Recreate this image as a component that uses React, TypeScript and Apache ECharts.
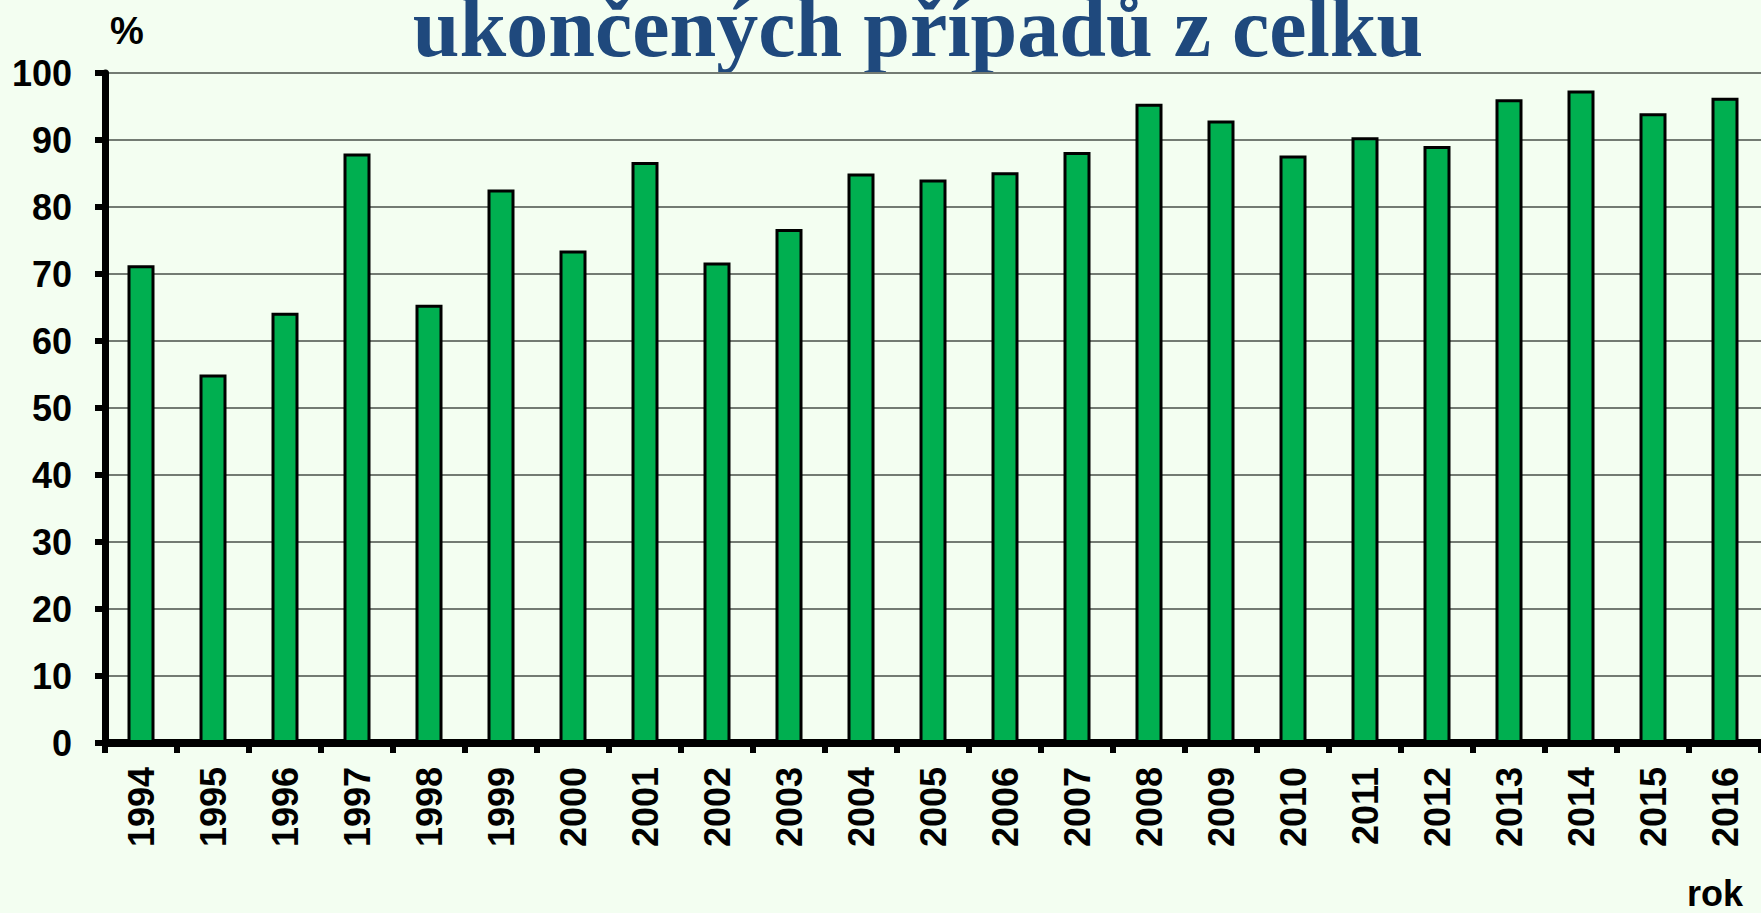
import React, { useEffect, useRef } from 'react';
import * as echarts from 'echarts';

const years = ['1994','1995','1996','1997','1998','1999','2000','2001','2002','2003','2004','2005','2006','2007','2008','2009','2010','2011','2012','2013','2014','2015','2016'];
const shareValues = [71.3, 55.0, 64.2, 88.0, 65.4, 82.6, 73.5, 86.7, 71.7, 76.7, 85.0, 84.1, 85.2, 88.2, 95.4, 92.9, 87.7, 90.4, 89.1, 96.1, 97.4, 94.0, 96.3];
const titleText = 'ukončených případů z celku';
const yUnit = '%';
const xName = 'rok';
const yMin = 0;
const yMax = 100;
const yInterval = 10;

export default function App() {
  const ref = useRef<HTMLDivElement>(null);
  useEffect(() => {
    const chart = echarts.init(ref.current as HTMLDivElement, null, { renderer: 'svg' });
    const sans = "'Liberation Sans', Arial, sans-serif";
    chart.setOption({
      animation: false,
      backgroundColor: '#F3FEF1',
      grid: { left: 105, top: 73, width: 1663, height: 670, containLabel: false },
      xAxis: {
        type: 'category',
        data: years,
        axisLine: { show: true, lineStyle: { color: '#000', width: 8 } },
        axisTick: { show: true, length: 10, lineStyle: { color: '#000', width: 6 } },
        axisLabel: {
          rotate: 90,
          margin: 24,
          color: '#000',
          fontSize: 36,
          fontWeight: 'bold',
          fontFamily: sans,
          interval: 0,
        },
        splitLine: { show: false },
      },
      yAxis: {
        type: 'value',
        min: yMin,
        max: yMax,
        interval: yInterval,
        axisLine: { show: true, lineStyle: { color: '#000', width: 7 } },
        axisTick: { show: true, length: 10, lineStyle: { color: '#000', width: 6 } },
        axisLabel: {
          margin: 33,
          color: '#000',
          fontSize: 36,
          fontWeight: 'bold',
          fontFamily: sans,
        },
        splitLine: { show: true, lineStyle: { color: '#737B73', width: 2 } },
      },
      series: [
        {
          type: 'bar',
          data: shareValues,
          barWidth: 27,
          itemStyle: { color: '#00AF50', borderColor: '#000', borderWidth: 3 },
        },
      ],
      graphic: [
        {
          type: 'text',
          x: 918,
          y: 27,
          style: {
            text: titleText,
            font: "bold 84px 'Liberation Serif', 'Times New Roman', serif",
            fill: '#1F497D',
            align: 'center',
            verticalAlign: 'middle',
          },
        },
        {
          type: 'text',
          x: 127,
          y: 31,
          style: {
            text: yUnit,
            font: "bold 38px 'Liberation Sans', Arial, sans-serif",
            fill: '#000',
            align: 'center',
            verticalAlign: 'middle',
          },
        },
        {
          type: 'text',
          x: 1743,
          y: 893,
          style: {
            text: xName,
            font: "bold 36px 'Liberation Sans', Arial, sans-serif",
            fill: '#000',
            align: 'right',
            verticalAlign: 'middle',
          },
        },
      ],
    });
    return () => chart.dispose();
  }, []);
  return <div ref={ref} style={{ position: 'fixed', left: 0, top: 0, width: 1761, height: 913 }} />;
}
